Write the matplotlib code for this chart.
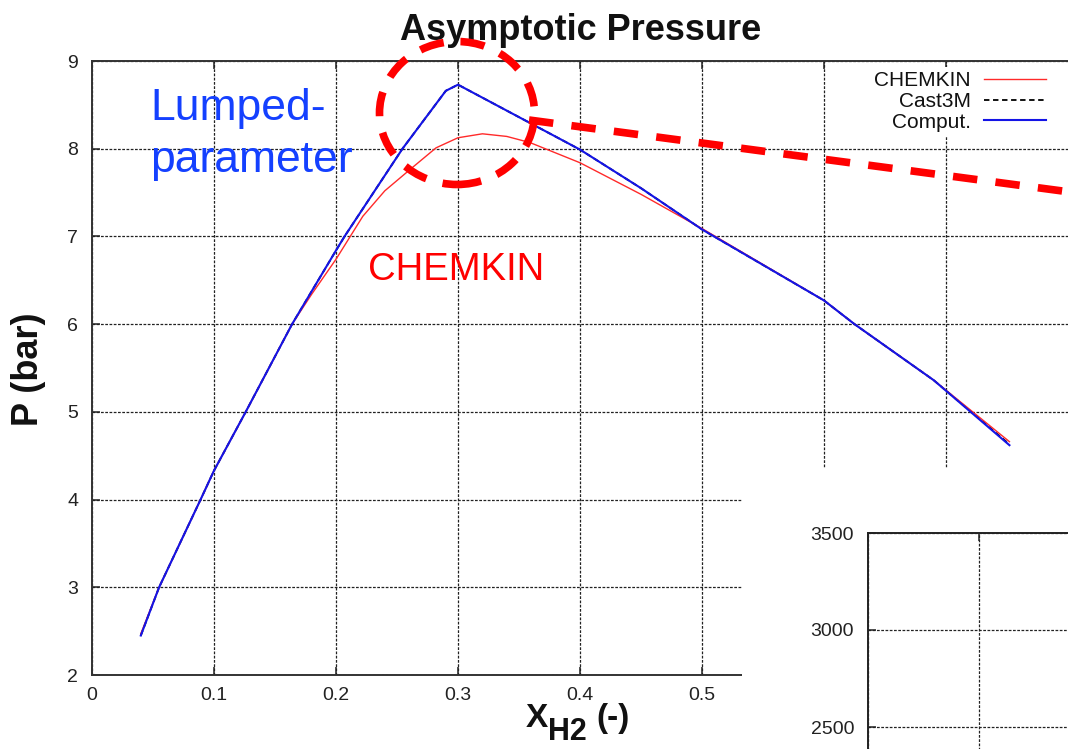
import matplotlib
matplotlib.use('Agg')
import matplotlib.pyplot as plt
from matplotlib.patches import Ellipse, Rectangle
from matplotlib.lines import Line2D

plt.rcParams['font.family'] = ['Liberation Sans', 'DejaVu Sans']

# ---------------- data ----------------
x_chemkin = [0.04, 0.055, 0.089, 0.10, 0.126, 0.164, 0.18, 0.20, 0.222, 0.24, 0.263, 0.282,
             0.30, 0.32, 0.34, 0.359, 0.40, 0.45, 0.50, 0.60, 0.625, 0.69, 0.752]
p_chemkin = [2.47, 3.0, 4.0, 4.33, 5.0, 6.0, 6.34, 6.74, 7.23, 7.52, 7.79, 8.01,
             8.125, 8.17, 8.14, 8.07, 7.84, 7.48, 7.09, 6.27, 6.0, 5.36, 4.66]

x_cast3m = [0.04, 0.055, 0.089, 0.10, 0.126, 0.164, 0.20, 0.207, 0.2545, 0.29, 0.30, 0.40,
            0.45, 0.50, 0.60, 0.625, 0.69, 0.752]
p_cast3m = [2.45, 3.0, 4.0, 4.33, 5.0, 6.0, 6.84, 7.0, 8.0, 8.66, 8.73, 7.99,
            7.55, 7.08, 6.27, 6.0, 5.36, 4.63]

x_comput = [0.04, 0.055, 0.089, 0.10, 0.126, 0.164, 0.20, 0.207, 0.2545, 0.29, 0.30, 0.40,
            0.45, 0.50, 0.60, 0.625, 0.69, 0.752]
p_comput = [2.45, 3.0, 4.0, 4.33, 5.0, 6.0, 6.84, 7.0, 8.0, 8.66, 8.73, 7.99,
            7.55, 7.08, 6.27, 6.0, 5.36, 4.62]

x_ticks = [0, 0.1, 0.2, 0.3, 0.4, 0.5, 0.6, 0.7]
x_ticklabels = ['0', '0.1', '0.2', '0.3', '0.4', '0.5', '0.6', '0.7']
y_ticks = [2, 3, 4, 5, 6, 7, 8, 9]

inset_yticks = [2500, 3000, 3500]
inset_xticks = [0, 0.5, 1.0]

series_labels = ['CHEMKIN', 'Cast3M', 'Comput.']

# ---------------- figure ----------------
W, H = 1068, 749
fig = plt.figure(figsize=(W / 100, H / 100), dpi=100)
fig.patch.set_facecolor('white')

def fx(px):
    return px / W

def fy(py):
    return 1 - py / H

# main axes: x=0 at px 92, 122 px per 0.1; y=9 at px 61, y=2 at px 675
left, right = 92, 92 + 9 * 122.0
top, bottom = 61, 675
ax = fig.add_axes([fx(left), fy(bottom), (right - left) / W, (bottom - top) / H])
ax.set_xlim(0, 0.9)
ax.set_ylim(2, 9)

grid_kw = dict(color='#222222', linestyle=(0, (2.2, 1.2)), linewidth=0.9)
ax.grid(True, **grid_kw)
ax.set_axisbelow(True)

ax.plot(x_cast3m, p_cast3m, color='black', linestyle=(0, (3, 2)), linewidth=1.3,
        label=series_labels[1], zorder=2)
ax.plot(x_chemkin, p_chemkin, color='#ff2a2a', linewidth=1.0,
        label=series_labels[0], zorder=3)
ax.plot(x_comput, p_comput, color='#1414e6', linewidth=1.5,
        label=series_labels[2], zorder=4)

ax.set_xticks(x_ticks)
ax.set_xticklabels(x_ticklabels)
ax.set_yticks(y_ticks)
ax.tick_params(direction='in', length=6, width=1.1, colors='#222222',
               labelsize=14, top=True, right=True)
ax.tick_params(axis='x', pad=9)
ax.tick_params(axis='y', pad=10)
for s in ax.spines.values():
    s.set_color('#333333')
    s.set_linewidth(1.4)

handles, labels = ax.get_legend_handles_labels()
order = [labels.index(l) for l in series_labels]
leg = ax.legend([handles[i] for i in order], [labels[i] for i in order],
                loc='upper right', bbox_to_anchor=(fx(1050), fy(67)),
                bbox_transform=fig.transFigure, frameon=True, fancybox=False,
                edgecolor='none', facecolor='white', framealpha=1.0,
                fontsize=15, markerfirst=False, handlelength=2.95,
                handletextpad=0.65, labelspacing=0.08, borderpad=0.2,
                borderaxespad=0)
leg.set_zorder(5)
for t in leg.get_texts():
    t.set_color('#111111')

# titles / labels
fig.text(fx(581), fy(30), 'Asymptotic Pressure', fontsize=26, fontweight='bold',
         ha='center', va='center', color='#111111')
fig.text(fx(29), fy(369), 'P (bar)', fontsize=26, fontweight='bold', rotation=90,
         ha='center', va='center', color='#111111')
# x label: X with H2 subscript (gnuplot style, lowered) and (-)
fig.text(fx(526), fy(727), 'X', fontsize=24, fontweight='bold',
         ha='left', va='baseline', color='#111111')
fig.text(fx(548), fy(740), 'H2', fontsize=22, fontweight='bold',
         ha='left', va='baseline', color='#111111')
fig.text(fx(596), fy(727), '(-)', fontsize=24, fontweight='bold',
         ha='left', va='baseline', color='#111111')

# white cover box and partial second chart
cover = Rectangle((fx(742), 0), 1 - fx(742), fy(468), transform=fig.transFigure,
                  facecolor='white', edgecolor='none', zorder=20)
fig.patches.append(cover)

ax2 = fig.add_axes([fx(868), fy(533 + 291), (1090 - 868) / W, 291 / H])
ax2.set_zorder(21)
ax2.set_xlim(0, 1)
ax2.set_ylim(2000, 3500)
ax2.set_yticks(inset_yticks)
ax2.set_xticks(inset_xticks)
ax2.grid(True, **grid_kw)
ax2.tick_params(direction='in', length=6, width=1.1, colors='#222222',
                labelsize=14, top=True, right=True, pad=10, labelbottom=False)
for s in ax2.spines.values():
    s.set_color('#222222')
    s.set_linewidth(1.4)

# annotation overlays
fig.text(fx(150), fy(120), 'Lumped-', fontsize=32, color='#1440ff',
         ha='left', va='baseline', zorder=30)
fig.text(fx(150), fy(172), 'parameter', fontsize=32, color='#1440ff',
         ha='left', va='baseline', zorder=30)
fig.text(fx(368), fy(280), 'CHEMKIN', fontsize=27.5, color='#ff0000',
         ha='left', va='baseline', zorder=30)

ell = Ellipse((fx(457), fy(113)), 155 / W, 143 / H, transform=fig.transFigure,
              fill=False, edgecolor='#ff0000', linewidth=5.5,
              linestyle=(0, (3.2, 2.2)), zorder=30)
fig.patches.append(ell)
arrow_line = Line2D([fx(529), fx(1070)], [fy(120), fy(192)], transform=fig.transFigure,
                    color='#ff0000', linewidth=5.5, linestyle=(0, (3.2, 2.4)), zorder=30)
fig.lines.append(arrow_line)

fig.savefig('out.png', dpi=100)
